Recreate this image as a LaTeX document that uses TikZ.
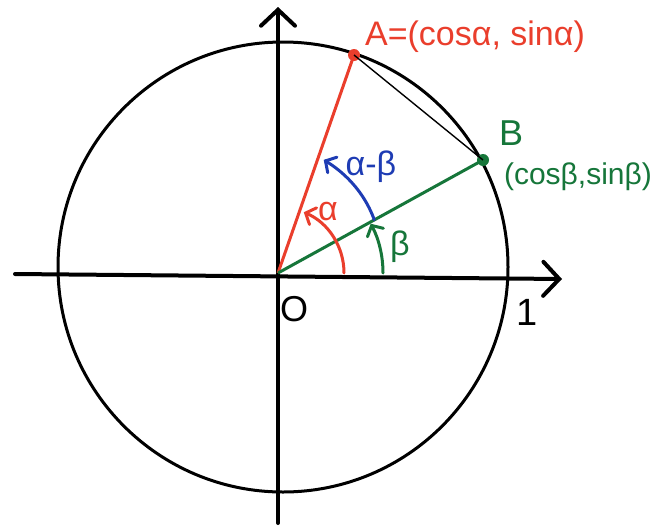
\documentclass[tikz,border=0pt]{standalone}
\usepackage{fontspec}
\setmainfont{Liberation Sans}
\usetikzlibrary{arrows.meta,calc}
\definecolor{pred}{RGB}{234,62,44}
\definecolor{pgreen}{RGB}{22,118,58}
\definecolor{pblue}{RGB}{30,60,180}
\begin{document}
\begin{tikzpicture}[x=0.5pt,y=-0.5pt,
  axis/.style={line width=2pt, line cap=round, -{Straight Barb[length=8pt,width=17pt,line cap=round]}},
  arcarrow/.style={line width=1.5pt, line cap=round, -{Straight Barb[length=4pt,width=9pt,line cap=round]}},
  ray/.style={line width=1.5pt},
  dot/.style={circle, inner sep=0pt, minimum size=6pt},
  lbl/.style={inner sep=0pt, font=\fontsize{17}{20}\selectfont}]
\useasboundingbox (0,0) rectangle (663,525);
\fill[white] (0,0) rectangle (663,525);
% unit circle
\coordinate (C) at (283,267);
\draw[line width=1.5pt] (C) circle[radius=225];
% axes
\coordinate (O) at (278,273);
\coordinate (xl) at (15,274);
\coordinate (xr) at (562,279);
\coordinate (yb) at (278,523);
\coordinate (yt) at (278,7);
\draw[axis] (xl) -- (xr);
\draw[axis] (yb) -- (yt);
% points
\node[dot, fill=pred] (A) at (354,55) {};
\node[dot, fill=pgreen] (B) at (483,160) {};
\draw[ray, pred] (O) -- (A.center);
\draw[ray, pgreen] (O) -- (B.center);
\draw[line width=0.7pt] (A.center) -- (B.center);
% angle arcs
\draw[arcarrow, pred] ($(O)+(66,0)$) arc[start angle=0, end angle=-67, radius=66];
\draw[arcarrow, pgreen] ($(O)+(105,0)$) arc[start angle=0, end angle=-28, radius=105];
\draw[arcarrow, pblue] plot[domain=29:68, samples=40, smooth]
  ({278+(110+12*(\x-29)/39)*cos(\x)}, {273-(110+12*(\x-29)/39)*sin(\x)});
% labels
\node[lbl, text=pred] (Alab) at (475,37) {A=(cosα, sinα)};
\node[lbl, text=pgreen, font=\fontsize{18}{20}\selectfont] (Blab) at (511,133) {B};
\node[lbl, text=pgreen, font=\fontsize{15}{18}\selectfont] (Bcoord) at (578,177) {(cosβ,sinβ)};
\node[lbl, text=pblue] (amb) at (371,167) {α-β};
\node[lbl, text=pred] (alab) at (328,212) {α};
\node[lbl, text=pgreen] (blab) at (400,247) {β};
\node[lbl, font=\fontsize{18}{20}\selectfont] (Olab) at (294,309) {O};
\node[lbl, font=\fontsize{19}{20}\selectfont] (one) at (527,312) {1};
\end{tikzpicture}
\end{document}
